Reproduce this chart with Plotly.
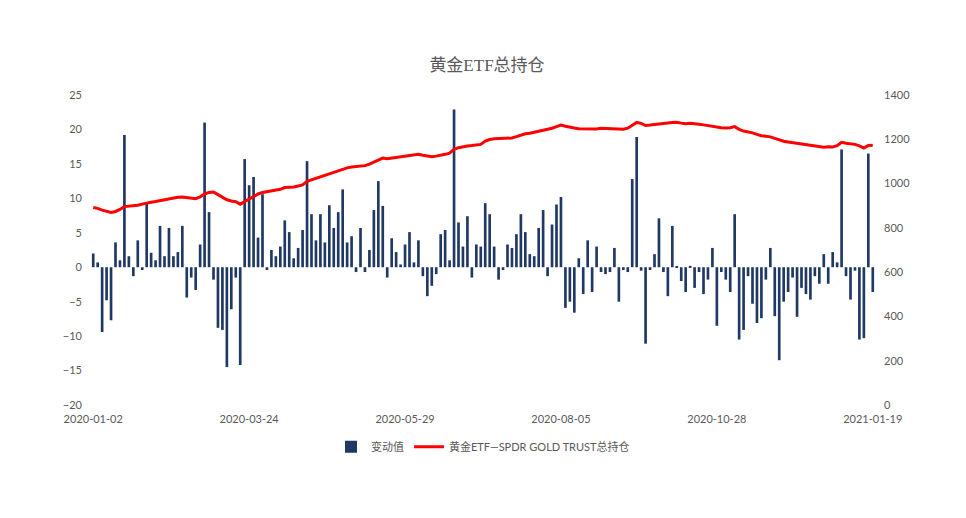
import plotly.graph_objects as go

# daily change of the SPDR gold ETF holdings (tonnes), one value per trading record
change_values = [
    2.0, 0.7, -9.4, -4.8, -7.7, 3.6, 1.0, 19.2, 1.6, -1.3, 3.9, -0.4, 9.2, 2.1, 1.0, 6.0, 1.6, 5.7, 1.6, 2.2, 6.0, -4.4,
    -1.5, -3.3, 3.3, 21.0, 8.0, -1.8, -8.8, -9.1, -14.5, -6.1, -1.5, -14.2, 15.7, 11.9, 13.1, 4.3, 10.6, -0.4, 2.5, 1.6, 3.0, 6.8,
    5.1, 1.3, 2.8, 5.4, 15.4, 7.7, 3.9, 7.7, 3.6, 9.0, 5.7, 8.0, 11.3, 3.6, 4.5, -0.7, 5.7, -0.7, 2.5, 8.3, 12.5, 8.9,
    -1.5, 4.2, 2.2, 0.4, 3.3, 5.1, 0.7, 3.9, -1.3, -4.2, -2.7, -1.0, 4.8, 5.4, 1.0, 22.9, 6.5, 3.0, 7.4, -1.5, 3.3, 3.0,
    9.3, 7.7, 3.0, -1.8, -0.4, 3.3, 2.8, 4.8, 7.7, 5.1, 1.9, 1.6, 5.7, 8.3, -1.3, 6.2, 9.1, 10.2, -5.9, -5.0, -6.6, 1.3,
    -3.9, 3.9, -3.6, 3.0, -0.7, -1.0, -0.7, 2.8, -5.0, -0.4, -0.7, 12.8, 18.9, -0.5, -11.1, -0.4, 1.9, 7.1, -0.7, -4.2, 6.0, 0.1,
    -2.0, -3.6, 0.2, -3.0, -0.7, -3.9, -1.8, 2.8, -8.5, -0.7, -1.8, -3.6, 7.7, -10.5, -9.1, -1.3, -5.3, -8.1, -7.4, -1.8, 2.8, -7.1,
    -13.5, -5.0, -3.6, -1.5, -7.2, -3.0, -3.9, -4.7, -1.3, -2.4, 1.9, -2.4, 2.2, 0.7, 17.1, -1.3, -4.7, -0.5, -10.5, -10.3, 16.5, -3.6,
]

# total holdings (tonnes)
total_holdings = [
    892, 888, 880, 874, 870, 874, 883, 896, 898, 899, 902, 907, 913, 916, 919, 923, 926, 930, 934, 938, 939, 937,
    935, 932, 940, 953, 960, 962, 950, 940, 927, 921, 918, 907, 917, 930, 941, 953, 960, 963, 966, 968, 974, 982,
    982, 985, 989, 994, 1010, 1017, 1023, 1030, 1036, 1044, 1051, 1058, 1066, 1071, 1075, 1078, 1079, 1081, 1088, 1097, 1107, 1115,
    1112, 1115, 1118, 1121, 1125, 1128, 1131, 1132, 1128, 1124, 1121, 1124, 1127, 1132, 1137, 1155, 1162, 1167, 1170, 1172, 1175, 1177,
    1192, 1199, 1202, 1203, 1203, 1203, 1206, 1212, 1219, 1225, 1227, 1231, 1237, 1242, 1245, 1250, 1257, 1264, 1259, 1254, 1251, 1248,
    1247, 1246, 1245, 1247, 1250, 1249, 1247, 1246, 1245, 1245, 1250, 1264, 1276, 1272, 1262, 1264, 1267, 1271, 1272, 1274, 1276, 1277,
    1273, 1270, 1272, 1271, 1268, 1265, 1261, 1257, 1253, 1252, 1251, 1252, 1257, 1245, 1237, 1234, 1229, 1222, 1216, 1214, 1211, 1204,
    1197, 1191, 1188, 1185, 1182, 1179, 1175, 1171, 1168, 1165, 1164, 1166, 1165, 1171, 1186, 1182, 1179, 1177, 1170, 1160, 1172, 1173,
]

tick_positions = [0, 35, 70, 105, 140, 175]
tick_labels = ["2020-01-02", "2020-03-24", "2020-05-29", "2020-08-05", "2020-10-28", "2021-01-19"]

x = list(range(len(change_values)))
n = len(x)

fig = go.Figure()

fig.add_trace(go.Bar(
    x=x, y=change_values, name="变动值",
    marker=dict(color="#203864", line=dict(width=0)),
    yaxis="y",
))
fig.add_trace(go.Scatter(
    x=x, y=total_holdings, name="黄金ETF—SPDR GOLD TRUST总持仓",
    mode="lines", line=dict(color="#FF0000", width=3),
    yaxis="y2",
))

tick_font = dict(family="Lato, Noto Sans CJK SC, sans-serif", size=11, color="#595959")

# the page has an 8px body margin, so the figure is a bit smaller than the window
fig.update_layout(
    width=958, height=510,
    margin=dict(l=83, r=91, t=87, b=113),
    paper_bgcolor="white", plot_bgcolor="white",
    bargap=0.4,
    title=dict(
        text="黄金ETF总持仓", x=0.5, xanchor="center", y=0.888, yanchor="middle",
        font=dict(family="Liberation Serif, Noto Sans CJK SC, serif", size=17, color="#595959"),
    ),
    xaxis=dict(
        range=[-0.5, n - 0.5], tickmode="array", tickvals=tick_positions, ticktext=tick_labels,
        showgrid=False, showline=False, zeroline=False, ticks="", tickfont=tick_font,
        ticklabelstandoff=6,
    ),
    # thin axis line at zero with small category ticks, like the original
    xaxis3=dict(
        overlaying="x", anchor="free", position=20 / 45, range=[-0.5, n - 0.5],
        showticklabels=False, showgrid=False, zeroline=False,
        showline=True, linecolor="#D9D9D9", linewidth=1,
        ticks="outside", ticklen=3, tickcolor="#D9D9D9", tick0=-0.5, dtick=1,
        layer="below traces",
    ),
    yaxis=dict(
        range=[-20, 25], dtick=5, showgrid=False, zeroline=False, showline=False,
        tickfont=tick_font, ticklabelstandoff=8,
    ),
    yaxis2=dict(
        overlaying="y", side="right", range=[0, 1400], dtick=200,
        showgrid=False, zeroline=False, showline=False, tickfont=tick_font,
        ticklabelstandoff=8,
    ),
    legend=dict(
        orientation="h", x=0.5, xanchor="center", y=-0.135, yanchor="middle",
        font=dict(family="Lato, Noto Sans CJK SC, sans-serif", size=11, color="#595959"),
    ),
    showlegend=True,
)

fig.write_html("out.html")
